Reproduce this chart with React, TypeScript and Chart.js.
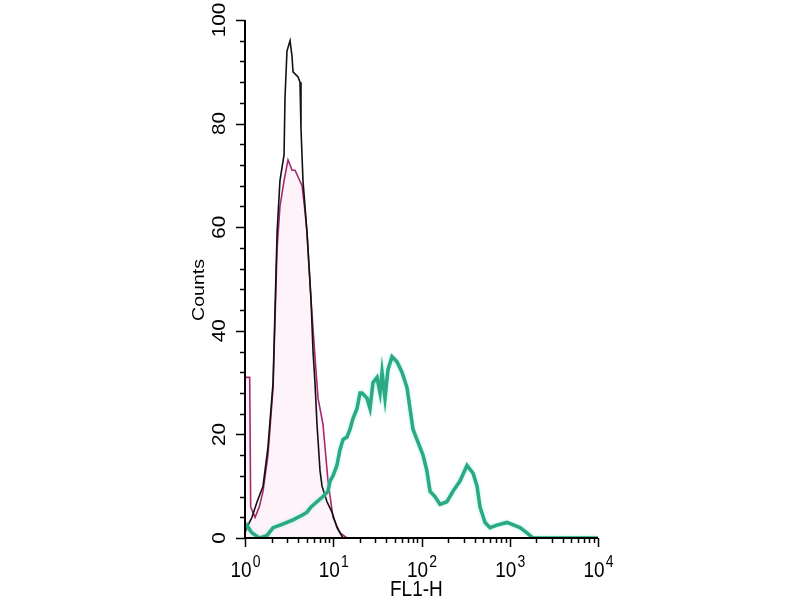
import React, { useEffect, useRef } from "react";
import { Chart, registerables } from "chart.js";

Chart.register(...registerables);

// FL1-H channel positions and counts
const tealX = [1, 1.05, 1.14, 1.2, 1.37, 1.48, 1.78, 2.08, 2.5, 2.99, 3.5, 3.99, 4.54, 5.04, 5.6, 6.54, 7.65, 8.72, 9.19, 9.93, 11.0, 11.9, 12.9, 14.3, 15.5, 16.7, 18.6, 20.1, 21.2, 24.1, 26.1, 28.2, 31.3, 33.9, 35.7, 38.6, 41.7, 46.3, 52.8, 60.1, 68.6, 74.1, 80.1, 88.9, 104, 115, 125, 142, 162, 194, 227, 273, 328, 384, 426, 460, 525, 597, 717, 931, 1306, 1567, 1834, 2090, 3000, 10000];
const tealY = [2, 2.5, 1.5, 1, 0.3, 0, 0.5, 2, 2.5, 3, 3.5, 4, 4.5, 5, 6, 7, 8, 9, 11, 12, 14, 17, 19, 19.5, 21, 23, 25, 28, 28, 27, 25, 30, 31, 28, 32, 27, 32.5, 35, 34, 32, 29, 25, 21, 19, 16, 13, 9, 8, 6.5, 7, 9, 11, 14, 12.5, 10, 6, 3, 2, 2.5, 3, 2, 1, 0, 0, 0, 0];

const blackX = [1, 1.05, 1.2, 1.37, 1.6, 1.82, 2.08, 2.31, 2.49, 2.77, 2.84, 2.99, 3.24, 3.41, 3.5, 3.99, 4.2, 4.31, 4.54, 5.04, 5.6, 5.9, 6.21, 6.54, 7.08, 7.46, 8.49, 9.68, 11.03, 12.9, 10000];
const blackY = [1, 2, 4, 7, 10, 17.5, 30, 59, 69, 74, 85, 94, 96, 93, 90, 89, 88, 79, 69, 59, 46, 36, 30, 22, 13, 10, 7, 5, 2, 0, 0];

const magentaX = [1, 1.13, 1.16, 1.3, 1.45, 1.6, 1.82, 2.08, 2.31, 2.49, 2.77, 2.99, 3.07, 3.24, 3.41, 3.69, 4.43, 4.79, 5.04, 5.6, 6.21, 6.72, 7.65, 8.72, 9.93, 11.93, 14.3, 10000];
const magentaY = [31, 31, 6, 4, 6, 9, 16, 29, 56, 64, 69, 72, 73, 72, 71, 71, 68, 63, 59, 46, 35, 27, 22, 11, 4, 1, 0, 0];

const xMajor = [1, 10, 100, 1000, 10000];
const xMajorExp = ["0", "1", "2", "3", "4"];
const yLabels = [0, 20, 40, 60, 80, 100];
const xTitle = "FL1-H";
const yTitle = "Counts";

const toPoints = (xs: number[], ys: number[]) => xs.map((x, i) => ({ x, y: ys[i] }));

const FONT = '"Liberation Sans", Arial, sans-serif';
const STRETCH = 1.15;

const axesPlugin = {
  id: "flowAxes",
  beforeDatasetDraw(chart: any, args: any) {
    if (args.index === 0) {
      chart.ctx.save();
      chart.ctx.shadowColor = "rgba(120,230,220,0.7)";
      chart.ctx.shadowBlur = 3;
    }
  },
  afterDatasetDraw(chart: any, args: any) {
    if (args.index === 0) chart.ctx.restore();
  },
  afterDraw(chart: any) {
    const ctx = chart.ctx as CanvasRenderingContext2D;
    const xs = chart.scales.x;
    const ys = chart.scales.y;
    const { left, right, top, bottom } = chart.chartArea;
    ctx.save();
    ctx.strokeStyle = "#000";
    ctx.fillStyle = "#000";
    // axis lines
    ctx.lineWidth = 2;
    ctx.beginPath();
    ctx.moveTo(left, top);
    ctx.lineTo(left, bottom);
    ctx.lineTo(right, bottom);
    ctx.stroke();
    // y ticks
    ctx.lineWidth = 1.5;
    for (let v = 0; v <= 100; v += 4) {
      const py = Math.round(ys.getPixelForValue(v)) + 0.5;
      const len = v % 20 === 0 ? 9 : 5;
      ctx.beginPath();
      ctx.moveTo(left - len, py);
      ctx.lineTo(left, py);
      ctx.stroke();
    }
    // x ticks
    for (let d = 0; d < 4; d++) {
      for (let m = 1; m <= 9; m++) {
        const v = m * Math.pow(10, d);
        const px = Math.round(xs.getPixelForValue(v)) + 0.5;
        const len = m === 1 ? 9 : 5;
        ctx.beginPath();
        ctx.moveTo(px, bottom);
        ctx.lineTo(px, bottom + len);
        ctx.stroke();
      }
    }
    {
      const px = Math.round(xs.getPixelForValue(10000)) + 0.5;
      ctx.beginPath();
      ctx.moveTo(px, bottom);
      ctx.lineTo(px, bottom + 9);
      ctx.stroke();
    }
    // y labels (rotated)
    ctx.font = `18px ${FONT}`;
    ctx.textAlign = "center";
    ctx.textBaseline = "alphabetic";
    yLabels.forEach((v) => {
      const py = ys.getPixelForValue(v);
      ctx.save();
      ctx.translate(225, py);
      ctx.scale(1, STRETCH);
      ctx.rotate(-Math.PI / 2);
      ctx.fillText(String(v), 0, 0);
      ctx.restore();
    });
    // x labels with superscript
    xMajor.forEach((v, i) => {
      const px = xs.getPixelForValue(v);
      ctx.font = `19px ${FONT}`;
      const w10 = ctx.measureText("10").width;
      ctx.font = `14px ${FONT}`;
      const we = ctx.measureText(xMajorExp[i]).width;
      const start = px - (w10 + we) / 2;
      ctx.save();
      ctx.translate(0, 577);
      ctx.scale(1, STRETCH);
      ctx.textAlign = "left";
      ctx.font = `19px ${FONT}`;
      ctx.fillText("10", start, 0);
      ctx.font = `14px ${FONT}`;
      ctx.fillText(xMajorExp[i], start + w10 + 1, -9);
      ctx.restore();
    });
    // titles
    ctx.save();
    ctx.font = `19px ${FONT}`;
    ctx.textAlign = "left";
    ctx.translate(390, 596);
    ctx.scale(1, STRETCH);
    ctx.fillText(xTitle, 0, 0);
    ctx.restore();
    ctx.save();
    ctx.font = `17px ${FONT}`;
    ctx.textAlign = "center";
    ctx.translate(204, 290);
    ctx.scale(1, STRETCH);
    ctx.rotate(-Math.PI / 2);
    ctx.fillText(yTitle, 0, 0);
    ctx.restore();
    ctx.restore();
  },
};

export default function App() {
  const ref = useRef<HTMLCanvasElement>(null);
  useEffect(() => {
    if (!ref.current) return;
    const chart = new Chart(ref.current, {
      type: "line",
      data: {
        datasets: [
          {
            label: "Antibody",
            data: toPoints(tealX, tealY),
            borderColor: "#2aa982",
            borderWidth: 3.5,
            pointRadius: 0,
            fill: false,
            tension: 0,
          },
          {
            label: "Control",
            data: toPoints(blackX, blackY),
            borderColor: "#111",
            borderWidth: 1.6,
            pointRadius: 0,
            fill: false,
            tension: 0,
          },
          {
            label: "Isotype",
            data: toPoints(magentaX, magentaY),
            borderColor: "#a8286e",
            backgroundColor: "rgba(250,215,236,0.3)",
            borderWidth: 1.6,
            pointRadius: 0,
            fill: "origin",
            tension: 0,
          },
        ],
      },
      options: {
        responsive: false,
        animation: false,
        layout: { padding: { left: 245, right: 202, top: 20, bottom: 62 } },
        plugins: { legend: { display: false }, tooltip: { enabled: false } },
        scales: {
          x: { type: "logarithmic", min: 1, max: 10000, display: false },
          y: { type: "linear", min: 0, max: 100, display: false },
        },
      },
      plugins: [axesPlugin],
    });
    return () => chart.destroy();
  }, []);
  return (
    <div style={{ position: "fixed", left: 0, top: 0, width: 800, height: 600, background: "#fff" }}>
      <canvas ref={ref} width={800} height={600} />
    </div>
  );
}
